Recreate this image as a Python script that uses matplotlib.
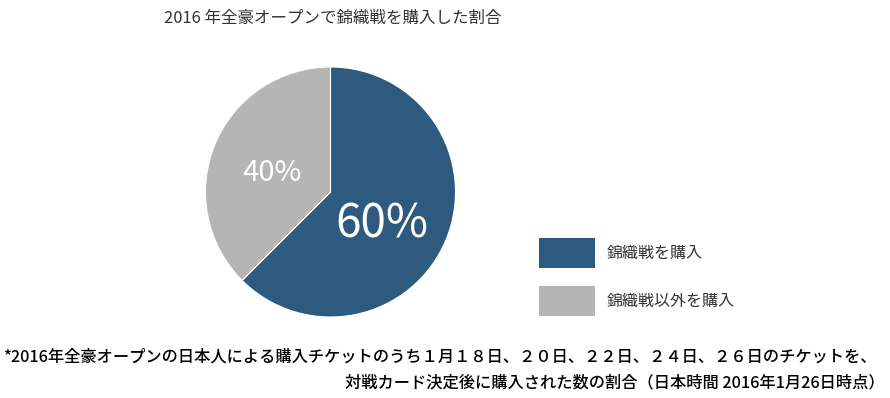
import matplotlib
matplotlib.use('Agg')

import matplotlib.pyplot as plt
from matplotlib.patches import Patch

plt.rcParams['font.family'] = ['Noto Sans CJK JP', 'DejaVu Sans']

# Data
title = "2016 年全豪オープンで錦織戦を購入した割合"
categories = ["錦織戦を購入", "錦織戦以外を購入"]
shares = [62.5, 37.5]          # drawn wedge sizes
share_labels = ["60%", "40%"]  # printed labels
colors = ["#2E5A80", "#B5B5B5"]
footnote_1 = "*2016年全豪オープンの日本人による購入チケットのうち１月１８日、２０日、２２日、２４日、２６日のチケットを、"
footnote_2 = "対戦カード決定後に購入された数の割合（日本時間 2016年1月26日時点）"

W, H = 890, 398
fig = plt.figure(figsize=(W / 100, H / 100), dpi=100)

# pie axes: center (330, 192) px, radius 125 px
cx, cy, r = 330.5, 192, 125
ax = fig.add_axes([(cx - r) / W, (H - cy - r) / H, 2 * r / W, 2 * r / H])
wedges, _ = ax.pie(
    shares,
    colors=colors,
    startangle=90,
    counterclock=False,
    radius=1,
    wedgeprops=dict(edgecolor="white", linewidth=0.8),
)
ax.set_xlim(-1, 1)
ax.set_ylim(-1, 1)
ax.set_aspect("equal")

# percentage labels
ax.text(0.41, -0.26, share_labels[0], color="white", fontsize=33,
        ha="center", va="center")
ax.text(-0.47, 0.15, share_labels[1], color="white", fontsize=21,
        ha="center", va="center")

fig.text(164 / W, 1 - 18 / H, title, fontsize=11.9, color="#333333",
         ha="left", va="center")

# legend
handles = [Patch(facecolor=c, edgecolor="none") for c in colors]
fig.legend(handles, categories, loc="upper left",
           bbox_to_anchor=(539 / W, 1 - 238 / H),
           frameon=False, fontsize=11.5, handlelength=3.5, handleheight=2.5,
           handletextpad=0.75, labelspacing=1.15, borderaxespad=0,
           borderpad=0, labelcolor="#333333")

fig.text(3 / W, 1 - 357 / H, footnote_1, fontsize=11.7, color="black",
         fontweight="medium", ha="left", va="center")
fig.text(885 / W, 1 - 383 / H, footnote_2, fontsize=11.7, color="black",
         fontweight="medium", ha="right", va="center")

fig.savefig("out.png", dpi=100)
